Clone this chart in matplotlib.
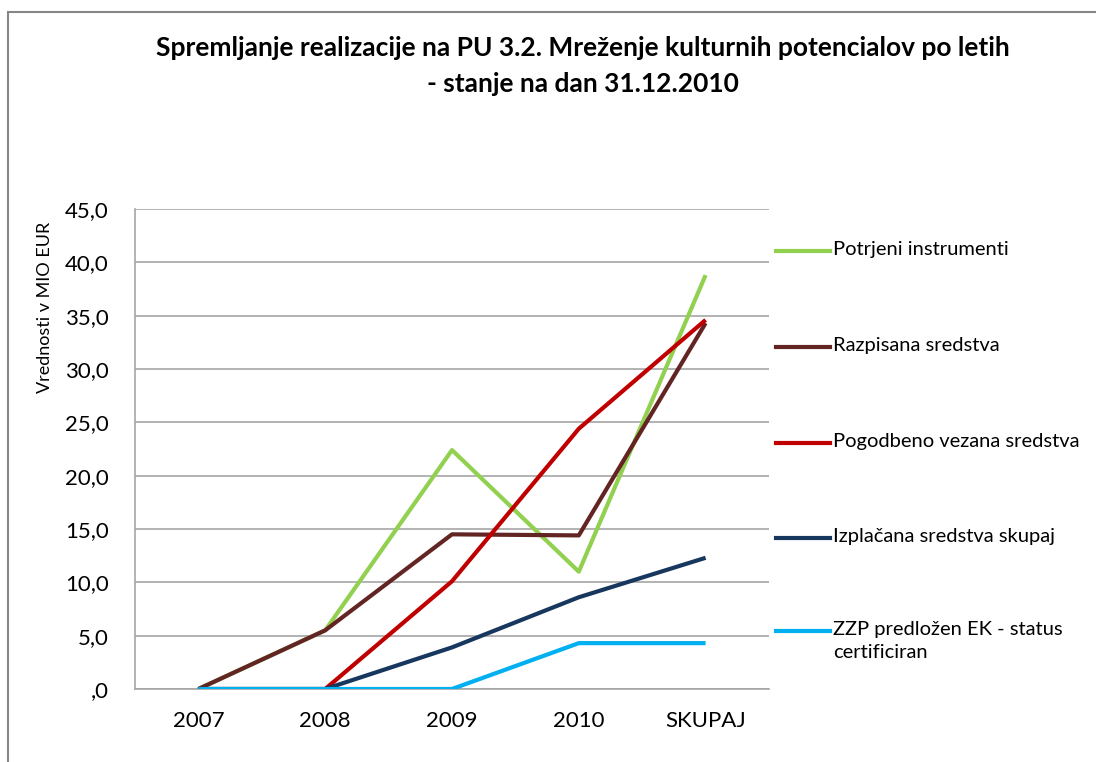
import matplotlib
matplotlib.use('Agg')
import matplotlib.pyplot as plt
from matplotlib.lines import Line2D
from matplotlib.patches import Rectangle
from matplotlib.ticker import FuncFormatter

plt.rcParams['font.family'] = ['Lato', 'DejaVu Sans']

# --- Daten ---
kategorije = ['2007', '2008', '2009', '2010', 'SKUPAJ']
potrjeni = [0.0, 5.5, 22.4, 11.0, 38.8]
razpisana = [0.0, 5.5, 14.5, 14.4, 34.3]
pogodbeno = [0.0, 0.0, 10.1, 24.4, 34.6]
izplacana = [0.0, 0.0, 3.9, 8.6, 12.3]
zzp = [0.0, 0.0, 0.0, 4.3, 4.3]

serije = [
    ('Potrjeni instrumenti', potrjeni, '#92D050'),
    ('Razpisana sredstva', razpisana, '#632523'),
    ('Pogodbeno vezana sredstva', pogodbeno, '#C00000'),
    ('Izplačana sredstva skupaj', izplacana, '#17375E'),
    ('ZZP predložen EK - status\ncertificiran', zzp, '#00B0F0'),
]

W, H = 1096, 762
fig = plt.figure(figsize=(W / 100, H / 100), dpi=100)

# Rahmen des Diagramms
fig.add_artist(Rectangle((8 / W, -0.1), 1.2, 1 - 12 / H + 0.1, transform=fig.transFigure,
                         facecolor='none', edgecolor='#868686', linewidth=1.5))

ax = fig.add_axes([135 / W, 1 - 689 / H, (769 - 135) / W, (689 - 209) / H])

x = list(range(len(kategorije)))
for ime, vals, col in serije:
    ax.plot(x, vals, color=col, linewidth=3.0, solid_capstyle='butt', zorder=3)

ax.set_xlim(-0.5, len(kategorije) - 0.5)
ax.set_ylim(0, 45)
ax.set_yticks([i * 5 for i in range(10)])
ax.yaxis.set_major_formatter(FuncFormatter(
    lambda v, p: ',0' if v == 0 else f'{v:.1f}'.replace('.', ',')))
ax.set_xticks(x)
ax.set_xticklabels(kategorije)
ax.tick_params(axis='both', length=0, labelsize=16, colors='#000000')
ax.tick_params(axis='y', pad=19)
ax.tick_params(axis='x', pad=16)

ax.grid(axis='y', color='#A6A6A6', linewidth=1.2)
ax.set_axisbelow(True)
for s in ['top', 'right']:
    ax.spines[s].set_visible(False)
for s in ['left', 'bottom']:
    ax.spines[s].set_color('#A6A6A6')
    ax.spines[s].set_linewidth(1.2)

fig.text(45 / W, 1 - 307 / H, 'Vrednosti v MIO EUR', rotation=90, ha='center', va='center',
         fontsize=13)

fig.text(583 / W, 1 - 48 / H, 'Spremljanje realizacije na PU 3.2. Mreženje kulturnih potencialov po letih',
         ha='center', va='center', fontsize=19, fontweight='bold')
fig.text(583 / W, 1 - 84 / H, '- stanje na dan 31.12.2010',
         ha='center', va='center', fontsize=19, fontweight='bold')

# Legende rechts
leg_y = [251, 347, 443, 538, 631]
for (ime, vals, col), yy in zip(serije, leg_y):
    fig.add_artist(Line2D([776 / W, 830 / W], [1 - yy / H, 1 - yy / H], color=col,
                          linewidth=3.0, transform=fig.transFigure))
    fig.text(833 / W, 1 - (yy - 10) / H, ime, ha='left', va='top', fontsize=14.5,
             linespacing=1.45)

fig.savefig('out.png', dpi=100)
